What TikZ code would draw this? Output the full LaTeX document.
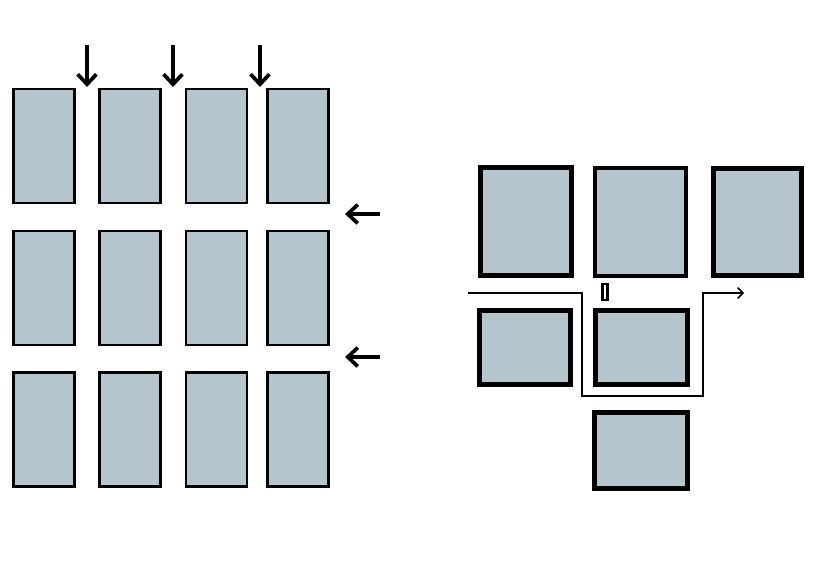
\documentclass[tikz,border=0pt]{standalone}
\usepackage{xcolor}
\usepackage{tikz}
\usetikzlibrary{positioning, arrows.meta}

\definecolor{panel}{HTML}{B5C5CE}

\begin{document}
\begin{tikzpicture}[
    x=0.75pt, y=-0.75pt,
    cell/.style={draw, rectangle, fill=panel, line width=1.9pt, minimum width=45.75pt, minimum height=85.5pt, inner sep=0pt},
    block/.style={draw, rectangle, fill=panel, line width=3.6pt, inner sep=0pt},
    flow/.style={-{Straight Barb[length=7.5pt, width=14pt, line width=2.8pt]}, line width=3pt},
    route/.style={-{Straight Barb[length=4pt, width=8pt]}, line width=1.1pt}
]
    \useasboundingbox (0,0) rectangle (816,587);

    % left grid
    \node (c11) [cell] at (44,146) {};
    \node (c12) [cell, right=17pt of c11] {};
    \node (c13) [cell, right=17pt of c12] {};
    \node (c14) [cell, right=13.5pt of c13] {};
    \node (c21) [cell, below=19pt of c11] {};
    \node (c22) [cell, below=19pt of c12] {};
    \node (c23) [cell, below=19pt of c13] {};
    \node (c24) [cell, below=19pt of c14] {};
    \node (c31) [cell, below=19pt of c21] {};
    \node (c32) [cell, below=19pt of c22] {};
    \node (c33) [cell, below=19pt of c23] {};
    \node (c34) [cell, below=19pt of c24] {};

    \coordinate (d1) at (87,45);
    \coordinate (d2) at (173,45);
    \coordinate (d3) at (260,45);
    \coordinate (w1) at (380,214);
    \coordinate (w2) at (380,357);
    \draw [flow] (d1) -- ++(0,42);
    \draw [flow] (d2) -- ++(0,42);
    \draw [flow] (d3) -- ++(0,42);
    \draw [flow] (w1) -- ++(-35,0);
    \draw [flow] (w2) -- ++(-35,0);

    % right layout
    \node (r11) [block, minimum width=68.25pt, minimum height=81pt] at (526,221.5) {};
    \node (r12) [block, minimum width=68.25pt, minimum height=81pt] at (640.5,222) {};
    \node (r13) [block, minimum width=66pt, minimum height=80.25pt] at (757.5,222) {};
    \node (r21) [block, minimum width=68.25pt, minimum height=55.5pt] at (525,347.5) {};
    \node (r22) [block, minimum width=69pt, minimum height=55.5pt] at (641.5,347.5) {};
    \node (r32) [block, minimum width=69.75pt, minimum height=57pt] at (641,450.5) {};
    \node (gap) [draw, fill=white, line width=2pt, minimum width=4.2pt, minimum height=12pt, inner sep=0pt] at (605,292) {};

    \coordinate (in) at (468,293);
    \coordinate (out) at (744,293);
    \draw [route] (in) -| (582,396) -| (703,293) -- (out);
\end{tikzpicture}
\end{document}
